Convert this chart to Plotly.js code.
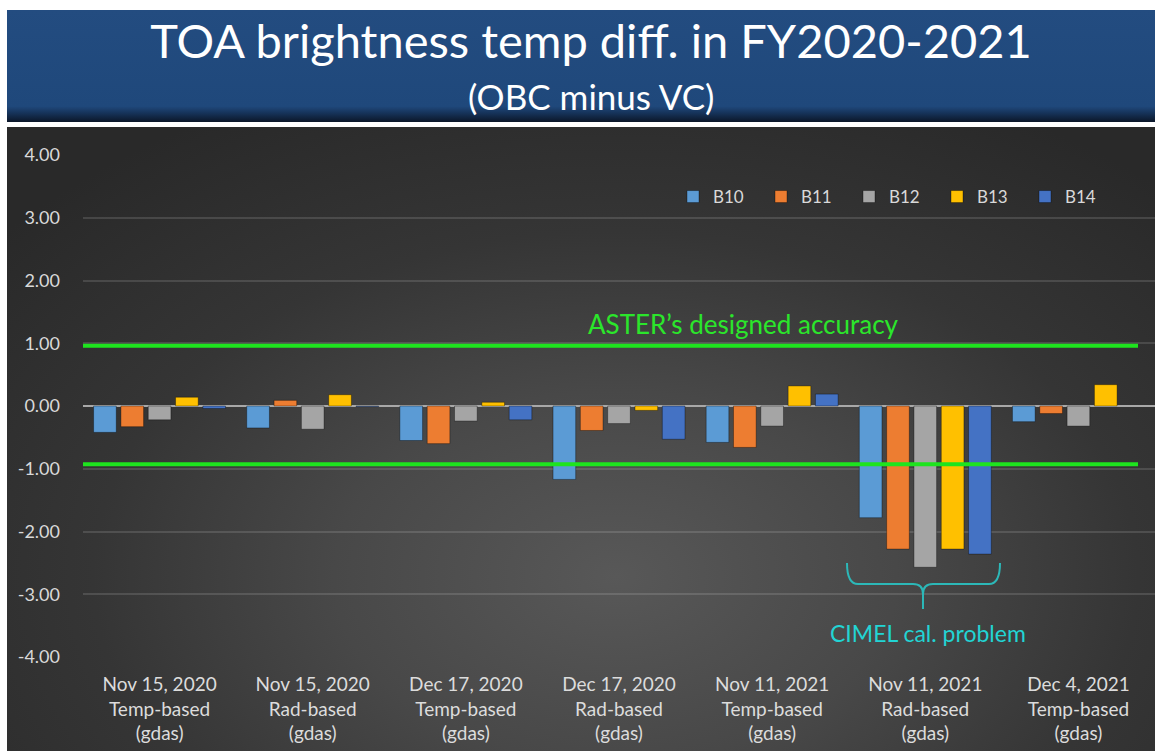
<!DOCTYPE html>
<html>
<head>
<meta charset="utf-8">
<script src="https://cdn.plot.ly/plotly-3.0.1.min.js"></script>
<style>
  html, body { margin: 0; padding: 0; background: #ffffff; width: 1155px; height: 751px; overflow: hidden; }
  #banner { position: absolute; left: 7px; top: 10px; width: 1148px; height: 112px;
    background: linear-gradient(to bottom, #234c80 0%, #1f487b 86%, #16335a 92%, #0b1628 100%); }
  #bg { position: absolute; left: 7px; top: 127px; width: 1148px; height: 624px;
    background: radial-gradient(ellipse 70% 85% at 53% 72%, #585858 0%, #484848 35%, #353535 65%, #292929 100%); }
  #chart { position: absolute; left: 0; top: 0; width: 1155px; height: 751px; }
</style>
</head>
<body>
<div id="banner"></div>
<div id="bg"></div>
<div id="chart"></div>
<script>
// ---- data ----
const categories = [
  "Nov 15, 2020<br>Temp-based<br>(gdas)",
  "Nov 15, 2020<br>Rad-based<br>(gdas)",
  "Dec 17, 2020<br>Temp-based<br>(gdas)",
  "Dec 17, 2020<br>Rad-based<br>(gdas)",
  "Nov 11, 2021<br>Temp-based<br>(gdas)",
  "Nov 11, 2021<br>Rad-based<br>(gdas)",
  "Dec 4, 2021<br>Temp-based<br>(gdas)"
];
const seriesNames = ["B10", "B11", "B12", "B13", "B14"];
const b10 = [-0.42, -0.35, -0.55, -1.17, -0.58, -1.78, -0.25];
const b11 = [-0.33, 0.09, -0.60, -0.39, -0.66, -2.28, -0.12];
const b12 = [-0.22, -0.37, -0.24, -0.28, -0.32, -2.57, -0.32];
const b13 = [0.14, 0.18, 0.06, -0.07, 0.32, -2.28, 0.34];
const b14 = [-0.04, -0.01, -0.22, -0.53, 0.19, -2.36, null];
const accuracyLines = [0.96, -0.93];
const yTickVals = [-4, -3, -2, -1, 0, 1, 2, 3, 4];
const yTickText = ["-4.00", "-3.00", "-2.00", "-1.00", "0.00", "1.00", "2.00", "3.00", "4.00"];

// ---- styling ----
const W = 1155, H = 751;
const colors = ["#5b9bd5", "#ed7d31", "#a5a5a5", "#ffc000", "#4472c4"];
const FONT = "Lato, 'Open Sans', sans-serif";
const px = (x) => x / W;
const py = (y) => 1 - y / H;

const seriesValues = [b10, b11, b12, b13, b14];
const traces = seriesNames.map((name, i) => ({
  type: "bar",
  name: name,
  x: categories,
  y: seriesValues[i],
  marker: { color: colors[i], line: { color: "rgba(0,0,0,0.35)", width: 1 } },
  hoverinfo: "x+y+name"
}));

// brace path in pixel space -> paper
function P(x, y) { return px(x).toFixed(5) + "," + py(y).toFixed(5); }
const bracePath =
  "M" + P(847, 563) + " Q" + P(847, 584) + " " + P(858, 584) +
  " L" + P(913, 584) + " Q" + P(923, 584) + " " + P(923, 594) +
  " L" + P(923, 609) +
  " M" + P(923, 594) + " Q" + P(923, 584) + " " + P(933, 584) +
  " L" + P(989, 584) + " Q" + P(1000, 584) + " " + P(1000, 563);

const shapes = accuracyLines.map(v => ({
  type: "line", xref: "paper", yref: "y",
  x0: px(83), x1: px(1138), y0: v, y1: v,
  line: { color: "#1ee41e", width: 4 }, layer: "above"
}));
shapes.push({
  type: "path", xref: "paper", yref: "paper", path: bracePath,
  line: { color: "#2cb8b8", width: 2 }
});

const layout = {
  width: W, height: H,
  margin: { l: 0, r: 0, t: 0, b: 0, pad: 0 },
  paper_bgcolor: "rgba(0,0,0,0)",
  plot_bgcolor: "rgba(0,0,0,0)",
  font: { family: FONT, color: "#d9d9d9" },
  title: {
    text: "TOA brightness temp diff. in FY2020-2021",
    x: px(591), y: py(42), xanchor: "center", yanchor: "middle",
    xref: "paper", yref: "paper",
    font: { family: FONT, size: 47, color: "#ffffff" }
  },
  barmode: "group",
  bargap: 0.108,
  bargroupgap: 0.17,
  showlegend: true,
  legend: {
    orientation: "h",
    x: px(673), xanchor: "left",
    y: py(197), yanchor: "middle",
    bgcolor: "rgba(0,0,0,0)",
    font: { family: FONT, size: 17, color: "#d9d9d9" },
    entrywidth: 43, entrywidthmode: "pixels",
    traceorder: "normal"
  },
  xaxis: {
    domain: [px(83), 1],
    type: "category",
    showgrid: false,
    zeroline: false,
    showline: false,
    ticks: "",
    ticklabelstandoff: 14,
    tickfont: { family: FONT, size: 19, color: "#dcdcdc" },
    fixedrange: true
  },
  yaxis: {
    domain: [py(657), py(155)],
    range: [-4, 4],
    tickmode: "array",
    tickvals: yTickVals,
    ticktext: yTickText,
    showgrid: true,
    gridcolor: "rgba(255,255,255,0.13)",
    gridwidth: 1.5,
    zeroline: true,
    zerolinecolor: "#a8a8a8",
    zerolinewidth: 2,
    showline: false,
    ticks: "",
    ticklabelstandoff: 22,
    tickfont: { family: FONT, size: 18, color: "#d9d9d9" },
    fixedrange: true
  },
  shapes: shapes,
  annotations: [
    {
      text: "(OBC minus VC)", xref: "paper", yref: "paper",
      x: px(591), y: py(96), xanchor: "center", yanchor: "middle",
      showarrow: false, font: { family: FONT, size: 35, color: "#ffffff" }
    },
    {
      text: "ASTER\u2019s designed accuracy", xref: "paper", yref: "paper",
      x: px(743), y: py(324), xanchor: "center", yanchor: "middle",
      showarrow: false, font: { family: FONT, size: 26, color: "#2be62b" }
    },
    {
      text: "CIMEL cal. problem", xref: "paper", yref: "paper",
      x: px(928), y: py(633), xanchor: "center", yanchor: "middle",
      showarrow: false, font: { family: FONT, size: 23, color: "#22d4d4" }
    }
  ]
};

Plotly.newPlot("chart", traces, layout, { displayModeBar: false, staticPlot: false });
</script>
</body>
</html>
